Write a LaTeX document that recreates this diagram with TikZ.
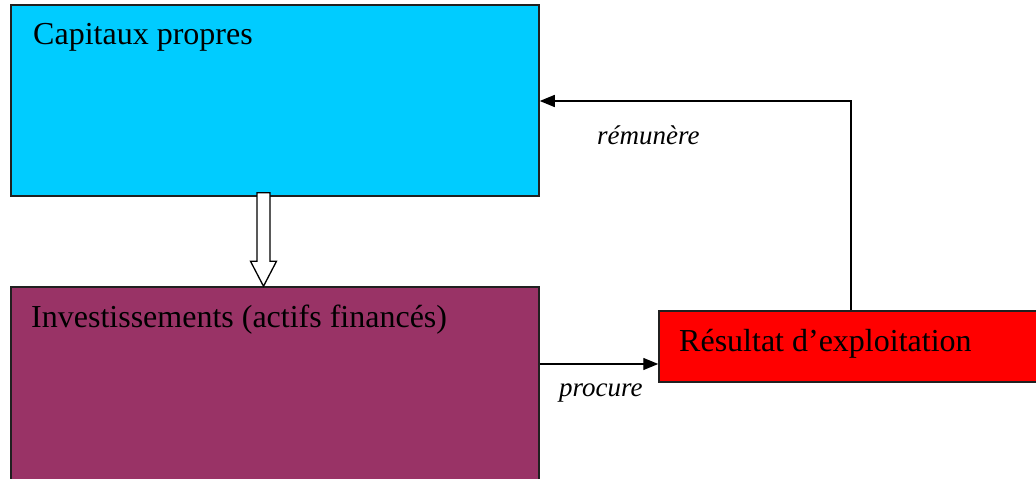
\documentclass[tikz,border=0pt]{standalone}
\usepackage{fontspec}
\setmainfont{Liberation Serif}
\usetikzlibrary{arrows.meta,calc}
\definecolor{capblue}{HTML}{00CCFF}
\definecolor{invpurple}{HTML}{993366}
\definecolor{resred}{HTML}{FF0000}
\definecolor{edgegray}{HTML}{202020}
\tikzset{
  box/.style={draw=edgegray, line width=1.5pt, rectangle, inner sep=0pt},
  bigtext/.style={anchor=base west, inner sep=0pt, font=\fontsize{32}{38}\selectfont},
  lbltext/.style={anchor=base west, inner sep=0pt, font=\fontsize{27}{32}\selectfont\itshape},
  arr/.style={draw=black, line width=1.4pt, -{Triangle[length=15pt,width=12pt]}},
  hollow/.style={draw=black, line width=1.3pt, fill=white, line join=miter},
}
\begin{document}
\begin{tikzpicture}[x=1pt,y=1pt]
\clip (0,0) rectangle (1036,479);
\fill[white] (0,0) rectangle (1036,479);
% boxes
\node[box, fill=capblue, minimum width=528pt, minimum height=191pt] (cap) at (275,378.5) {};
\node[box, fill=invpurple, minimum width=528pt, minimum height=202pt] (inv) at (275,91) {};
\node[box, fill=resred, minimum width=401pt, minimum height=71pt] (res) at (859.5,132.5) {};
% texts
\node[bigtext] (capt) at (33,434) {Capitaux propres};
\node[bigtext] (invt) at (31,151) {Investissements (actifs financés)};
\node[bigtext] (rest) at (679,127) {Résultat d’exploitation};
\node[lbltext] (rem) at (597,334) {rémunère};
\node[lbltext] (proc) at (559,82) {procure};
% hollow arrow from cap to inv
\coordinate (fx) at (263.5,0);
\coordinate (ftop) at ($(cap.south -| fx)+(0,4)$);
\coordinate (ftip) at (inv.north -| fx);
\draw[hollow] ($(ftop)+(-6.5,0)$) -- ($(ftip)+(-6.5,25)$) -- ($(ftip)+(-13,25)$)
  -- (ftip) -- ($(ftip)+(13,25)$) -- ($(ftip)+(6.5,25)$) -- ($(ftop)+(6.5,0)$) -- cycle;
% connectors
\coordinate (turn) at (851,378);
\coordinate (plev) at (0,115);
\draw[arr] (res.north -| turn) -- (turn) -- (cap.east |- turn);
\draw[arr] (inv.east |- plev) -- (res.west |- plev);
\end{tikzpicture}
\end{document}
